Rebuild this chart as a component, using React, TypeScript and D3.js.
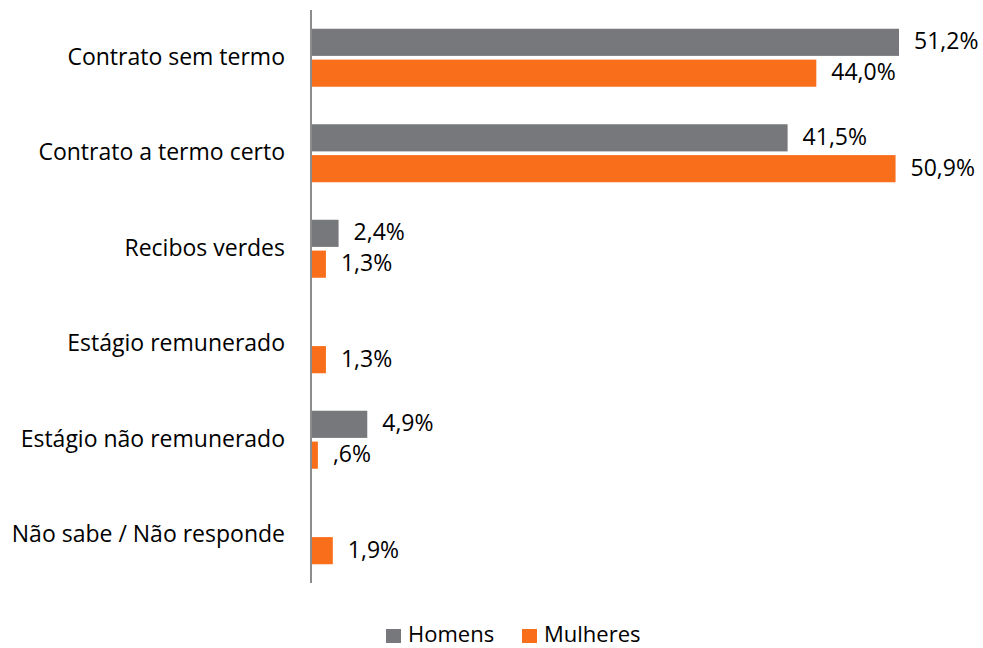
import React from "react";
import * as d3 from "d3";

const categories = [
  "Contrato sem termo",
  "Contrato a termo certo",
  "Recibos verdes",
  "Estágio remunerado",
  "Estágio não remunerado",
  "Não sabe / Não responde",
];
const homens: (number | null)[] = [51.2, 41.5, 2.4, null, 4.9, null];
const mulheres: (number | null)[] = [44.0, 50.9, 1.3, 1.3, 0.6, 1.9];
const seriesNames = ["Homens", "Mulheres"];
const colors = ["#77787B", "#F96E1B"];

const W = 983;
const H = 648;
const axisX = 311;
const top = 10;
const bottom = 583;
const font = "'Open Sans', sans-serif";
const fs = 23;

function fmt(v: number) {
  const s = v.toFixed(1).replace(".", ",");
  return (s.startsWith("0,") ? s.slice(1) : s) + "%";
}

export default function App() {
  const x = d3.scaleLinear().domain([0, 51.2]).range([axisX, 899]);
  const y = d3.scaleBand<string>().domain(categories).range([top, bottom]);
  const inner = d3
    .scaleBand<string>()
    .domain(seriesNames)
    .range([0, 58])
    .paddingInner(0.12);
  const offset = (y.bandwidth() - 58) / 2;
  const data = [homens, mulheres];

  return (
    <svg width={W} height={H} style={{ position: "absolute", left: 0, top: 0, background: "#fff" }}>
      {categories.map((c, i) => (
        <g key={c}>
          <text
            x={285}
            y={(y(c) as number) + y.bandwidth() / 2 + 1}
            textAnchor="end"
            dominantBaseline="middle"
            fontFamily={font}
            fontSize={fs}
            fill="#000"
          >
            {c}
          </text>
          {data.map((s, k) => {
            const v = s[i];
            if (v == null) return null;
            const by = (y(c) as number) + offset + (inner(seriesNames[k]) as number);
            return (
              <g key={k}>
                <rect x={x(0)} y={by} width={x(v) - x(0)} height={inner.bandwidth()} fill={colors[k]} />
                <text
                  x={x(v) + 15}
                  y={by + inner.bandwidth() / 2 + 1}
                  dominantBaseline="middle"
                  fontFamily={font}
                  fontSize={fs}
                  fill="#000"
                >
                  {fmt(v)}
                </text>
              </g>
            );
          })}
        </g>
      ))}
      <line x1={axisX} x2={axisX} y1={top} y2={bottom} stroke="#8C8C8C" strokeWidth={2} />
      {seriesNames.map((n, k) => {
        const lx = k === 0 ? 386 : 522;
        return (
          <g key={n}>
            <rect x={lx} y={629} width={15} height={14} fill={colors[k]} />
            <text x={lx + 22} y={642} fontFamily={font} fontSize={22} fill="#000">
              {n}
            </text>
          </g>
        );
      })}
    </svg>
  );
}
